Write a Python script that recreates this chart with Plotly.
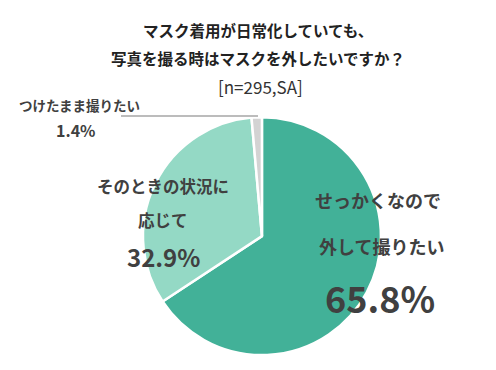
import plotly.graph_objects as go

labels = ["せっかくなので<br>外して撮りたい", "そのときの状況に<br>応じて", "つけたまま撮りたい"]
values = [65.8, 32.9, 1.4]
colors = ["#42B198", "#94D9C5", "#D3D3D3"]

title_lines = ["マスク着用が日常化していても、", "写真を撮る時はマスクを外したいですか？"]
sample_note = "[n=295,SA]"

FONT = "Noto Sans CJK JP"
TXT = "#404040"
W, H = 496, 370

fig = go.Figure(go.Pie(
    labels=labels, values=values, sort=False, direction="clockwise", rotation=0,
    marker=dict(colors=colors, line=dict(color="white", width=2.5)),
    textinfo="none", hoverinfo="label+value", showlegend=False,
    domain=dict(x=[0.272, 0.752], y=[0.062, 0.705]),
))

ann = []


def add(x, y, text, size, color=TXT, bold=True):
    t = f"<b>{text}</b>" if bold else text
    ann.append(dict(x=x / W, y=1 - y / H, text=t, xref="paper", yref="paper",
                    showarrow=False, xanchor="center", yanchor="middle",
                    font=dict(size=size, color=color, family=FONT)))


add(250, 22, title_lines[0], 15.5, "#222222")
add(250, 50, title_lines[1], 15.5, "#222222")
add(252, 78, sample_note, 17, "#333333", bold=False)

l0 = labels[0].split("<br>")
add(370, 192, l0[0], 18)
add(373, 238, l0[1], 18)
add(372, 289, f"{values[0]:.1f}%", 36)

l1 = labels[1].split("<br>")
add(155, 178, l1[0], 16.5)
add(155, 212, l1[1], 16.5)
add(155, 248, f"{values[1]:.1f}%", 24)

add(71, 97, labels[2], 13.5)
add(68, 122, f"{values[2]:.1f}%", 16)

fig.update_layout(
    width=W, height=H, margin=dict(l=0, r=0, t=0, b=0),
    paper_bgcolor="white", plot_bgcolor="white",
    annotations=ann,
    shapes=[dict(type="line", xref="paper", yref="paper",
                 x0=113 / W, x1=250 / W, y0=1 - 108 / H, y1=1 - 108 / H,
                 line=dict(color="#A6A6A6", width=1.5))],
)

fig.write_html("out.html")
